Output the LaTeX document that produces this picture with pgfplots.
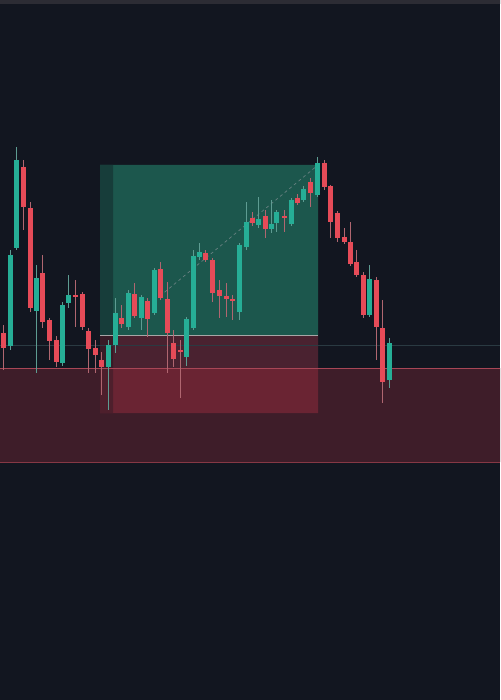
\documentclass[border=0pt]{standalone}
\usepackage{pgfplots}
\usepackage{pgfplotstable}
\pgfplotsset{compat=1.18}
\definecolor{bgc}{HTML}{121620}
\definecolor{topc}{HTML}{2C2C34}
\definecolor{bandc}{HTML}{3E1D29}
\definecolor{bandline}{HTML}{A84656}
\definecolor{boxg}{HTML}{1C574D}
\definecolor{boxgs}{HTML}{173D3A}
\definecolor{boxr1}{HTML}{4A2230}
\definecolor{boxr2}{HTML}{6A2433}
\definecolor{boxrs1}{HTML}{381C27}
\definecolor{boxrs2}{HTML}{4E1F2C}
\definecolor{candg}{HTML}{26AE96}
\definecolor{candr}{HTML}{E64B58}
\definecolor{wickg}{HTML}{5E9C92}
\definecolor{wickr}{HTML}{B06670}
\definecolor{midl}{HTML}{2A3A42}
\pgfplotsset{candle/.style={only marks, mark size=0pt,
  mark options={draw=none, fill=none}, forget plot}}
% x, body top, body bottom, wick top, wick bottom (pixel y, downwards)
\pgfplotstableread{
x bt bb wt wb
3 333 348 325 370
23 167 207 160 230
30 208 308 202 312
42 273 322 255 328
49 320 341 318 360
56 340 362 336 367
75 295 297 280 327
82 294 327 292 330
88 331 349 328 373
95 348 355 340 373
101 360 367 352 395
121 318 324 305 328
134 294 316 283 318
147 301 319 298 337
160 269 298 262 300
167 299 333 282 373
173 343 359 330 367
180 350 352 340 398
205 253 260 250 262
212 260 293 258 302
219 290 296 280 318
226 296 299 283 317
232 299 301 295 320
252 218 223 212 226
265 216 229 210 238
284 216 218 210 232
297 198 203 194 205
310 182 193 178 207
324 163 187 160 190
330 186 222 185 238
337 213 238 211 242
344 237 242 228 244
350 242 264 222 266
356 262 275 250 277
363 275 315 272 318
376 280 327 277 360
382 328 382 300 403
}\redtab
\pgfplotstableread{
x bt bb wt wb
10 255 346 250 350
16 160 248 147 250
36 278 311 265 373
62 305 363 302 366
68 295 303 275 308
108 345 367 340 410
115 313 345 298 353
128 293 327 290 330
141 297 318 295 330
154 270 313 268 315
186 319 357 317 366
193 256 328 250 330
199 252 257 243 260
239 245 312 243 320
246 222 247 202 250
258 219 225 197 228
271 224 229 200 233
276 212 223 210 232
291 200 224 198 226
303 189 200 186 202
317 163 195 157 197
369 279 315 265 317
389 343 380 338 388
}\greentab
\begin{document}
\begin{tikzpicture}
\begin{axis}[
  scale only axis, width=500pt, height=700pt,
  xmin=0, xmax=500, ymin=0, ymax=700, y dir=reverse,
  axis lines=none, ticks=none, clip=true,
  axis background/.style={fill=bgc},
]
% top strip
\addplot[fill=topc, draw=none] coordinates {(0,0) (500,0) (500,4) (0,4) (0,0)};
% full-width red band
\addplot[fill=bandc, draw=none] coordinates {(0,368) (500,368) (500,462) (0,462) (0,368)};
% green target box
\addplot[fill=boxg, draw=none] coordinates {(100,165) (318,165) (318,335) (100,335) (100,165)};
\addplot[fill=boxgs, draw=none] coordinates {(100,165) (113,165) (113,335) (100,335) (100,165)};
% red stop box
\addplot[fill=boxr1, draw=none] coordinates {(100,335) (318,335) (318,368) (100,368) (100,335)};
\addplot[fill=boxr2, draw=none] coordinates {(100,368) (318,368) (318,413) (100,413) (100,368)};
\addplot[fill=boxrs1, draw=none] coordinates {(100,335) (113,335) (113,368) (100,368) (100,335)};
\addplot[fill=boxrs2, draw=none] coordinates {(100,368) (113,368) (113,413) (100,413) (100,368)};
% lines
\addplot[midl, line width=0.8pt] coordinates {(0,345) (500,345)};
\addplot[bandline, line width=1pt] coordinates {(0,368) (500,368)};
\addplot[bandline!80!black, line width=1pt] coordinates {(0,462) (500,462)};
\addplot[gray!70, line width=0.8pt] coordinates {(100,335) (318,335)};
\addplot[gray!80!teal, line width=0.7pt, dashed] coordinates {(160,296) (318,165)};
% wicks
\addplot[candle, error bars/.cd, y dir=plus, y explicit,
  error mark=none, error bar style={line width=1pt, draw=wickr}]
  table[x=x, y=wt, y error expr=\thisrow{wb}-\thisrow{wt}] {\redtab};
\addplot[candle, error bars/.cd, y dir=plus, y explicit,
  error mark=none, error bar style={line width=1pt, draw=wickg}]
  table[x=x, y=wt, y error expr=\thisrow{wb}-\thisrow{wt}] {\greentab};
% bodies
\addplot[candle, error bars/.cd, y dir=plus, y explicit,
  error mark=none, error bar style={line width=5pt, draw=candr}]
  table[x=x, y=bt, y error expr=\thisrow{bb}-\thisrow{bt}] {\redtab};
\addplot[candle, error bars/.cd, y dir=plus, y explicit,
  error mark=none, error bar style={line width=5pt, draw=candg}]
  table[x=x, y=bt, y error expr=\thisrow{bb}-\thisrow{bt}] {\greentab};
\end{axis}
\end{tikzpicture}
\end{document}
